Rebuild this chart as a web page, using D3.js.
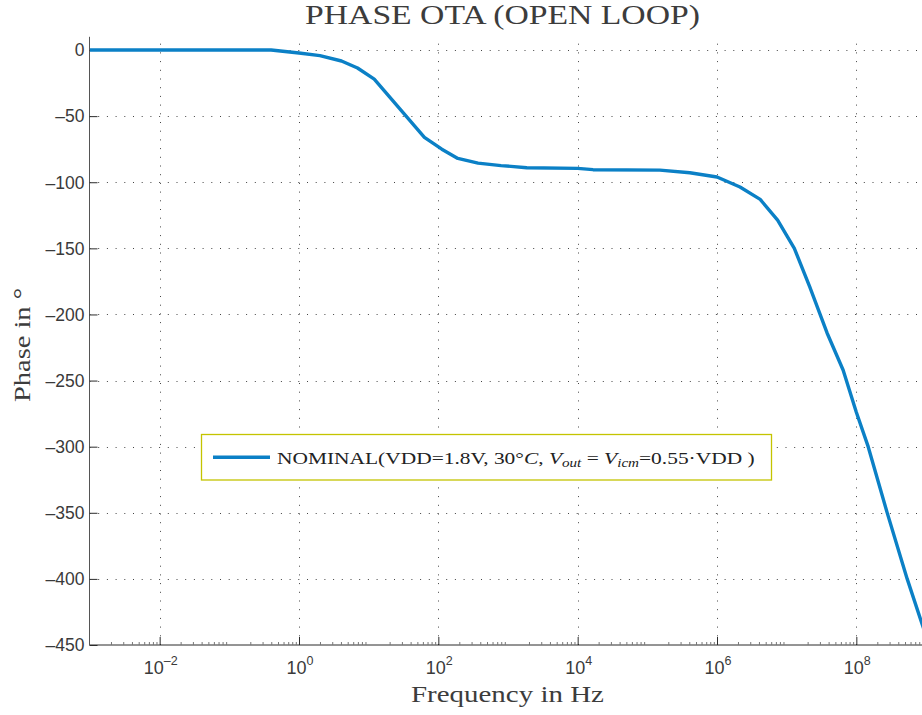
<!DOCTYPE html>
<html>
<head>
<meta charset="utf-8">
<script src="https://cdn.jsdelivr.net/npm/d3@7/dist/d3.min.js"></script>
<style>
  html, body { margin: 0; padding: 0; background: #fff; }
  svg { display: block; }
</style>
</head>
<body>
<svg id="chart" width="922" height="715"></svg>
<script>
// Open-loop phase response of the OTA (frequency as log10 exponent, phase in degrees)
const freqExp = [-3, -0.4, 0, 0.3, 0.61, 0.84, 1.08, 1.8, 2.05, 2.28, 2.57, 2.9, 3.27, 4.0, 4.22,
                 5.18, 5.61, 6.0, 6.33, 6.62, 6.87, 7.11, 7.33, 7.58, 7.81, 8.0, 8.17, 8.44, 8.73, 8.94, 9.0];
const phaseDeg = [0, 0, -2.3, -4.2, -8.3, -13.6, -22, -66, -75, -82, -85.5, -87.4, -89, -89.5, -90.5,
                  -90.8, -92.8, -96, -103.6, -113, -128.6, -150, -179, -214, -242, -274, -300, -349.5, -400, -433.5, -443];
const xTickExp = [-2, 0, 2, 4, 6, 8];
const yTicks = [0, -50, -100, -150, -200, -250, -300, -350, -400, -450];
const titleText = "PHASE OTA (OPEN LOOP)";
const xLabelText = "Frequency in Hz";
const yLabelText = "Phase in \u00B0";

const svg = d3.select("#chart");
const X0 = 89.5, X1 = 926, YTOP = 36.8, YBOT = 645;

const x = d3.scaleLog().domain([1e-3, 1e9]).range([90, X1]);
const y = d3.scaleLinear().domain([-450, 10]).range([YBOT, YTOP]);

const data = freqExp.map((e, i) => ({ f: Math.pow(10, e), p: phaseDeg[i] }));

const serif = "'Liberation Serif', 'Times New Roman', serif";
const sans = "'Liberation Sans', Arial, Helvetica, sans-serif";
const inkColor = "#2b2b2b";
const textColor = "#3a3a3a";

// stretch a horizontal text element so it spans [x0, x1]
function fitX(sel, x0, x1) {
  const bb = sel.node().getBBox();
  const s = (x1 - x0) / bb.width;
  sel.attr("transform", `translate(${x0 - bb.x * s},0) scale(${s},1)`);
}

svg.append("defs").append("clipPath").attr("id", "plotClip")
  .append("rect").attr("x", X0).attr("y", YTOP).attr("width", X1 - X0).attr("height", YBOT - YTOP);

// dotted grid
const grid = svg.append("g").attr("stroke", "#444").attr("stroke-width", 1)
  .attr("stroke-dasharray", "1,7.7").attr("fill", "none");
grid.selectAll("line.gx").data(xTickExp).join("line")
  .attr("x1", d => Math.round(x(Math.pow(10, d))) + 0.5)
  .attr("x2", d => Math.round(x(Math.pow(10, d))) + 0.5)
  .attr("y1", YBOT).attr("y2", YTOP);
grid.selectAll("line.gy").data(yTicks.filter(v => v > -450)).join("line")
  .attr("y1", d => Math.round(y(d)) + 0.5).attr("y2", d => Math.round(y(d)) + 0.5)
  .attr("x1", X0).attr("x2", X1);

// axes with inward ticks
const xAxisG = svg.append("g").attr("transform", `translate(0,${YBOT})`)
  .call(d3.axisTop(x).tickValues(xTickExp.map(e => Math.pow(10, e))).tickSize(8).tickFormat(""));
const minorVals = [];
for (let k = -3; k < 9; k++) for (let m = 2; m <= 9; m++) minorVals.push(m * Math.pow(10, k));
svg.append("g").attr("class", "minor").attr("transform", `translate(0,${YBOT})`)
  .call(d3.axisTop(x).tickValues(minorVals).tickSize(3).tickFormat(""))
  .call(g => g.select(".domain").remove());
const yAxisG = svg.append("g").attr("transform", `translate(${X0},0)`)
  .call(d3.axisRight(y).tickValues(yTicks).tickSize(8).tickFormat(""));
svg.selectAll(".domain, .tick line").attr("stroke", inkColor).attr("stroke-width", 1);
svg.selectAll(".minor .tick line").attr("stroke", "#777");
xAxisG.select(".domain").attr("d", `M${X0},0H${X1}`);
yAxisG.select(".domain").attr("d", `M0,${YBOT}V${YTOP}`).attr("stroke", "#555");

// tick labels
svg.append("g").selectAll("text").data(yTicks).join("text")
  .attr("x", 84.5).attr("y", d => y(d)).attr("dy", "0.36em")
  .attr("text-anchor", "end").attr("font-family", sans).attr("font-size", 17.5)
  .attr("fill", textColor)
  .text(d => d === 0 ? "0" : "\u2013" + Math.abs(d));

const xl = svg.append("g").selectAll("text").data(xTickExp).join("text")
  .attr("x", d => x(Math.pow(10, d)) + 1).attr("y", 674)
  .attr("text-anchor", "middle").attr("font-family", sans).attr("font-size", 18)
  .attr("fill", textColor);
xl.append("tspan").text("10");
xl.append("tspan").attr("dy", -9).attr("font-size", 12.5)
  .text(d => d < 0 ? "\u2013" + Math.abs(d) : String(d));

// phase curve
svg.append("path").datum(data)
  .attr("clip-path", "url(#plotClip)")
  .attr("fill", "none").attr("stroke", "#0b80c6").attr("stroke-width", 3.4)
  .attr("stroke-linejoin", "round")
  .attr("d", d3.line().x(d => x(d.f)).y(d => y(d.p)));

// title and axis labels
const title = svg.append("text").attr("x", 0).attr("y", 24)
  .attr("font-family", serif).attr("font-size", 28).attr("fill", "#3c3c3c").text(titleText);
fitX(title, 305, 700);

const xLab = svg.append("text").attr("x", 0).attr("y", 702)
  .attr("font-family", serif).attr("font-size", 24).attr("fill", "#3c3c3c").text(xLabelText);
fitX(xLab, 411, 604);

svg.append("text")
  .attr("transform", "translate(30,345) rotate(-90)")
  .attr("text-anchor", "middle").attr("font-family", serif).attr("font-size", 24)
  .attr("fill", "#3c3c3c").attr("textLength", 114).attr("lengthAdjust", "spacingAndGlyphs")
  .text(yLabelText);

// legend
const legend = svg.append("g");
legend.append("rect").attr("x", 201.5).attr("y", 434.5).attr("width", 570).attr("height", 45.5)
  .attr("fill", "#fff").attr("stroke", "#c4c400").attr("stroke-width", 1.3);
legend.append("line").attr("x1", 213).attr("x2", 270).attr("y1", 457.3).attr("y2", 457.3)
  .attr("stroke", "#0b80c6").attr("stroke-width", 3.4);
const lt = legend.append("text").attr("x", 0).attr("y", 464)
  .attr("font-family", serif).attr("font-size", 17).attr("fill", "#222");
lt.append("tspan").text("NOMINAL(VDD=1.8V, 30\u00B0");
lt.append("tspan").attr("font-style", "italic").text("C");
lt.append("tspan").text(", ");
lt.append("tspan").attr("font-style", "italic").text("V");
lt.append("tspan").attr("font-style", "italic").attr("font-size", 12).attr("dy", 3).text("out");
lt.append("tspan").attr("dy", -3).text(" = ");
lt.append("tspan").attr("font-style", "italic").text("V");
lt.append("tspan").attr("font-style", "italic").attr("font-size", 12).attr("dy", 3).text("icm");
lt.append("tspan").attr("dy", -3).text("=0.55\u00B7VDD )");
fitX(lt, 277, 755);
</script>
</body>
</html>
